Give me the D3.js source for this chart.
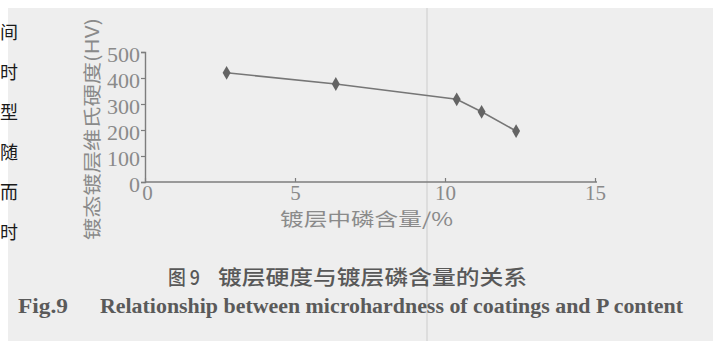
<!DOCTYPE html>
<html>
<head>
<meta charset="utf-8">
<script src="https://cdn.jsdelivr.net/npm/d3@7"></script>
<style>
  html, body { margin: 0; padding: 0; background: #ffffff; }
  svg { display: block; }
</style>
</head>
<body>
<svg id="chart" width="719" height="341"></svg>
<script>
// Phosphorus content of the coating (%) and as-plated Vickers hardness (HV)
const pContent = [2.72, 6.36, 10.39, 11.22, 12.37];
const hardness = [420, 377, 318, 270, 196];

const xTicks = [0, 5, 10, 15];
const yTicks = [0, 100, 200, 300, 400, 500];

const yTitle = "镀态镀层维氏硬度(HV)";
const xTitle = "镀层中磷含量/%";
const captionCn = ["图 9", "镀层硬度与镀层磷含量的关系"];
const captionEn = ["Fig.9", "Relationship between microhardness of coatings and P content"];
const sideColumn = ["间", "时", "型", "随", "而", "时"];

const svg = d3.select("#chart");

// page background of the printed figure
svg.append("rect")
  .attr("x", 8).attr("y", 8).attr("width", 705).attr("height", 333)
  .attr("fill", "#eeeeee");

// fold line running down the page
svg.append("line")
  .attr("x1", 427).attr("x2", 427).attr("y1", 8).attr("y2", 341)
  .attr("stroke", "#d9d9d9").attr("stroke-width", 1.6);

// text column on the left margin
svg.append("g").selectAll("text")
  .data(sideColumn)
  .join("text")
  .attr("x", 0)
  .attr("y", (d, i) => 39 + i * 40)
  .attr("font-family", "Noto Sans CJK SC")
  .attr("font-size", 18)
  .attr("fill", "#1a1a1a")
  .text(d => d);

const x = d3.scaleLinear().domain([0, 15]).range([145, 595]);
const y = d3.scaleLinear().domain([0, 500]).range([182, 52]);

const axisColor = "#7d7d7d";
const textColor = "#8a8a8a";

// y axis
const yAxis = svg.append("g")
  .attr("transform", `translate(${x(0)},0)`)
  .call(d3.axisLeft(y).tickValues(yTicks).tickSize(4).tickPadding(1).tickFormat(d3.format("d")));
yAxis.select(".domain").attr("stroke", axisColor).attr("stroke-width", 1.4);
yAxis.selectAll(".tick line").attr("stroke", axisColor).attr("stroke-width", 1.2);
yAxis.selectAll(".tick text")
  .attr("font-family", "Liberation Serif")
  .attr("font-size", 22)
  .attr("fill", textColor)
  .attr("dy", "0.45em");

// x axis with inward ticks
const xAxis = svg.append("g")
  .attr("transform", `translate(0,${y(0)})`)
  .call(d3.axisBottom(x).tickValues(xTicks).tickSizeInner(-4).tickSizeOuter(0).tickPadding(3.5).tickFormat(d3.format("d")));
xAxis.select(".domain").attr("stroke", axisColor).attr("stroke-width", 1.4)
  .attr("d", `M${x(0)},0H${x(15) + 2}`);
xAxis.selectAll(".tick line").attr("stroke", axisColor).attr("stroke-width", 1.2);
xAxis.selectAll(".tick text")
  .attr("font-family", "Liberation Serif")
  .attr("font-size", 21)
  .attr("fill", textColor)
  .attr("dx", d => d === 0 ? 2 : 0);

// axis titles
svg.append("text")
  .attr("transform", `translate(99,${(18 + 240) / 2}) rotate(-90)`)
  .attr("text-anchor", "middle")
  .attr("font-family", "Noto Sans CJK SC")
  .attr("font-size", 18)
  .attr("fill", textColor)
  .attr("textLength", 222)
  .attr("lengthAdjust", "spacingAndGlyphs")
  .text(yTitle);

svg.append("text")
  .attr("x", 280).attr("y", 226)
  .attr("font-family", "Noto Sans CJK SC")
  .attr("font-size", 18)
  .attr("fill", textColor)
  .attr("textLength", 173)
  .attr("lengthAdjust", "spacingAndGlyphs")
  .text(xTitle);

// hardness curve
const pts = pContent.map((p, i) => [p, hardness[i]]);
svg.append("path")
  .datum(pts)
  .attr("fill", "none")
  .attr("stroke", "#767676")
  .attr("stroke-width", 1.6)
  .attr("d", d3.line().x(d => x(d[0])).y(d => y(d[1])));

svg.append("g").selectAll("path")
  .data(pts)
  .join("path")
  .attr("transform", d => `translate(${x(d[0])},${y(d[1])})`)
  .attr("d", d3.symbol(d3.symbolDiamond, 55))
  .attr("fill", "#646464");

// captions
svg.append("text")
  .attr("x", 168).attr("y", 285)
  .attr("font-family", "Noto Sans CJK SC")
  .attr("font-weight", 500)
  .attr("font-size", 20)
  .attr("fill", "#585858")
  .attr("textLength", 32)
  .attr("lengthAdjust", "spacingAndGlyphs")
  .text(captionCn[0]);
svg.append("text")
  .attr("x", 218).attr("y", 285)
  .attr("font-family", "Noto Sans CJK SC")
  .attr("font-weight", 500)
  .attr("font-size", 20)
  .attr("fill", "#585858")
  .attr("textLength", 309)
  .attr("lengthAdjust", "spacingAndGlyphs")
  .text(captionCn[1]);

svg.append("text")
  .attr("x", 18).attr("y", 313)
  .attr("font-family", "Liberation Serif")
  .attr("font-weight", "bold")
  .attr("font-size", 20)
  .attr("fill", "#5a5a5a")
  .attr("textLength", 50)
  .attr("lengthAdjust", "spacingAndGlyphs")
  .text(captionEn[0]);
svg.append("text")
  .attr("x", 100).attr("y", 313)
  .attr("font-family", "Liberation Serif")
  .attr("font-weight", "bold")
  .attr("font-size", 20)
  .attr("fill", "#5a5a5a")
  .attr("textLength", 583)
  .attr("lengthAdjust", "spacingAndGlyphs")
  .text(captionEn[1]);
</script>
</body>
</html>
